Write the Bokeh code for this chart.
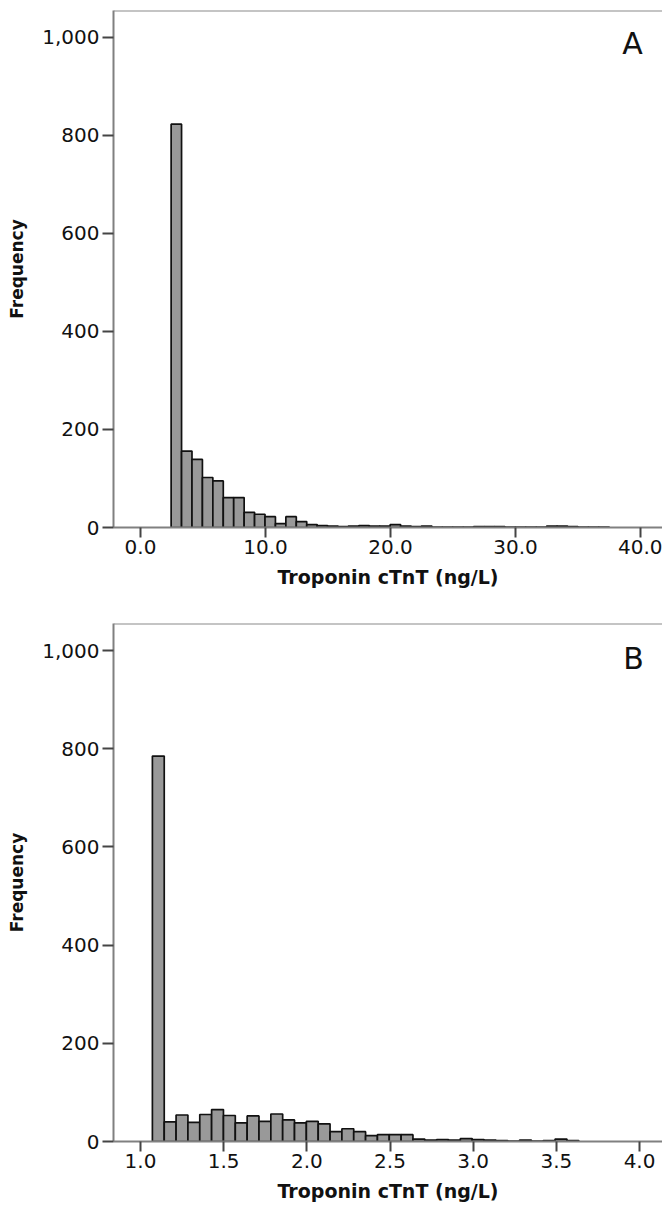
from bokeh.plotting import figure
from bokeh.models import Range1d, Span, Label, NumeralTickFormatter, FixedTicker, ColumnDataSource
from bokeh.layouts import column
from bokeh.embed import file_html
from bokeh.resources import INLINE
import numpy as np

# ---------------- data ----------------
# Panel A: raw cTnT histogram (bin start, bin width, counts)
a_bin_start = 2.45
a_bin_width = 0.8345
a_counts = [823, 156, 139, 102, 95, 61, 61, 31, 27, 22, 8, 22, 12, 6, 4,
            3, 2, 3, 4, 3, 3, 6, 3, 2, 3, 1, 1, 1, 1, 2, 2, 2, 1, 1, 1,
            1, 3, 3, 2, 1, 1, 1]
a_xticks = [0.0, 10.0, 20.0, 30.0, 40.0]

# Panel B: log-transformed cTnT histogram
b_bin_start = 1.0715
b_bin_width = 0.0712
b_counts = [785, 40, 54, 39, 55, 65, 53, 38, 52, 41, 56, 44, 38, 41, 36,
            20, 26, 20, 12, 14, 14, 14, 5, 3, 4, 3, 6, 4, 3, 2, 1, 3, 1, 2, 5, 2]
b_xticks = [1.0, 1.5, 2.0, 2.5, 3.0, 3.5, 4.0]

y_ticks = [0, 200, 400, 600, 800, 1000]
x_title = "Troponin cTnT (ng/L)"
y_title = "Frequency"
panel_labels = ["A", "B"]

FONT = "DejaVu Sans"


def make_panel(bin_start, bin_width, counts, xticks, xr, label, label_pos,
               height, top, bottom):
    p = figure(width=662, height=height, output_backend="svg", toolbar_location=None,
               x_range=Range1d(*xr), y_range=Range1d(0, 1055),
               min_border_left=113, min_border_right=0,
               min_border_top=top, min_border_bottom=bottom)
    p.outline_line_color = None
    p.xgrid.grid_line_color = None
    p.ygrid.grid_line_color = None
    p.background_fill_color = "white"
    p.border_fill_color = "white"

    n = len(counts)
    left = bin_start + bin_width * np.arange(n)
    src = ColumnDataSource(dict(left=left, right=left + bin_width,
                                top=np.array(counts, dtype=float)))
    p.quad(left="left", right="right", bottom=0, top="top", source=src,
           fill_color="#999999", line_color="#111111", line_width=1.7)

    p.add_layout(Span(location=1055, dimension="width",
                      line_color="#8a8a8a", line_width=2))

    for ax in (p.xaxis[0], p.yaxis[0]):
        ax.axis_line_color = "#808080"
        ax.axis_line_width = 2
        ax.major_tick_line_color = "#444444"
        ax.major_tick_line_width = 2
        ax.major_tick_in = 0
        ax.minor_tick_line_color = None
        ax.major_label_text_font = FONT
        ax.major_label_text_font_size = "20px"
        ax.major_label_text_color = "#111111"
        ax.axis_label_text_font = FONT
        ax.axis_label_text_font_style = "bold"
        ax.axis_label_text_color = "#111111"

    p.xaxis.ticker = FixedTicker(ticks=xticks)
    p.xaxis.formatter = NumeralTickFormatter(format="0.0")
    p.xaxis.major_tick_out = 10
    p.xaxis.major_label_standoff = 2
    p.xaxis.axis_label = x_title
    p.xaxis.axis_label_text_font_size = "19px"
    p.xaxis.axis_label_standoff = 9

    p.yaxis.ticker = FixedTicker(ticks=y_ticks)
    p.yaxis.formatter = NumeralTickFormatter(format="0,0")
    p.yaxis.major_tick_out = 11
    p.yaxis.major_label_standoff = 3
    p.yaxis.axis_label = y_title
    p.yaxis.axis_label_text_font_size = "17px"
    p.yaxis.axis_label_standoff = 12

    p.add_layout(Label(x=label_pos[0], y=label_pos[1], text=label,
                       text_font=FONT, text_font_size="30px",
                       text_color="#111111", text_align="center",
                       text_baseline="middle"))
    return p


pA = make_panel(a_bin_start, a_bin_width, a_counts, a_xticks, (-2.16, 41.76),
                panel_labels[0], (39.36, 988), height=607, top=10, bottom=80)
pB = make_panel(b_bin_start, b_bin_width, b_counts, b_xticks, (0.8377, 4.138),
                panel_labels[1], (3.964, 984), height=601, top=16, bottom=67)

layout = column(pA, pB, spacing=0)
open("out.html", "w").write(file_html(layout, INLINE))
